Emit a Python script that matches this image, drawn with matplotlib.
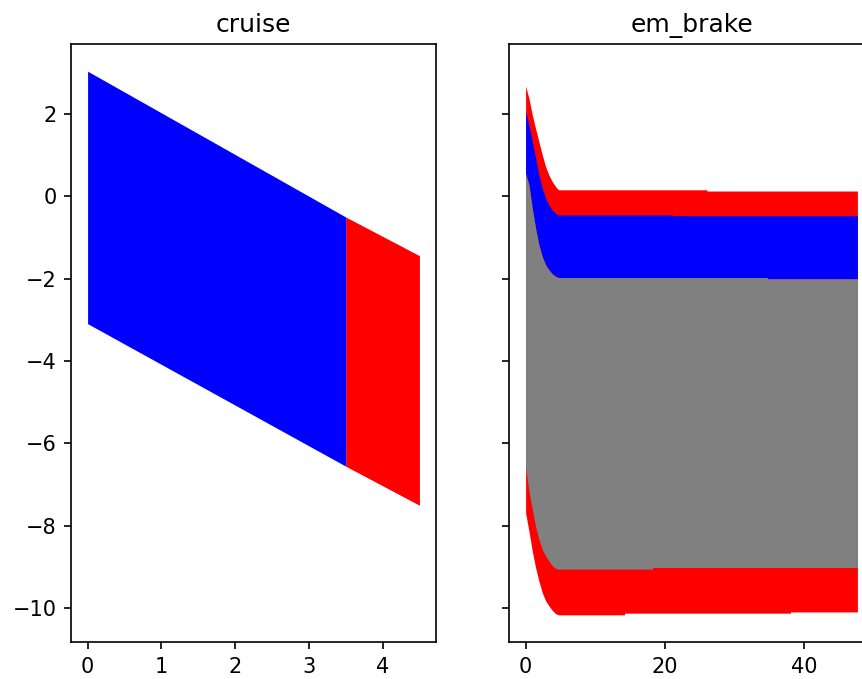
import numpy as np
import matplotlib
matplotlib.use("Agg")
import matplotlib.pyplot as plt

# cruise: band edges read at the start, at the blue/red switch and at the end
cruise_x = [0.0, 3.5, 4.5]
cruise_top = [3.04, -0.50, -1.44]
cruise_bot = [-3.09, -6.55, -7.50]
cruise_split = 3.5

# em_brake: edges of the three nested regions (x listed twice where an edge jumps)
brake_x = [0.0, 0.48, 0.96, 1.43, 1.91, 2.39, 2.87, 3.34, 3.82, 4.3, 4.7,
           14.2, 14.2, 18.2, 18.2, 21.0, 21.0, 26.0, 26.0, 34.7, 34.7, 38.0, 38.0, 47.6]
red_top = [2.68, 2.38, 1.98, 1.65, 1.33, 1.01, 0.72, 0.52, 0.36, 0.24, 0.16,
           0.16, 0.16, 0.16, 0.16, 0.16, 0.16, 0.16, 0.13, 0.13, 0.13, 0.13, 0.13, 0.13]
blue_top = [2.06, 1.73, 1.33, 0.93, 0.52, 0.20, -0.04, -0.21, -0.33, -0.41, -0.45,
            -0.45, -0.45, -0.45, -0.45, -0.45, -0.47, -0.47, -0.47, -0.47, -0.47, -0.47, -0.47, -0.47]
gray_top = [0.56, 0.28, -0.29, -0.77, -1.18, -1.46, -1.66, -1.78, -1.88, -1.94, -1.97,
            -1.97, -1.97, -1.97, -1.97, -1.97, -1.97, -1.97, -1.97, -1.97, -2.00, -2.00, -2.00, -2.00]
gray_bot = [-6.57, -7.16, -7.60, -8.01, -8.33, -8.57, -8.73, -8.85, -8.97, -9.03, -9.05,
            -9.05, -9.05, -9.05, -9.01, -9.01, -9.01, -9.01, -9.01, -9.01, -9.01, -9.01, -9.01, -9.01]
red_bot = [-7.68, -8.13, -8.61, -9.01, -9.34, -9.62, -9.82, -9.94, -10.05, -10.13, -10.16,
           -10.16, -10.12, -10.12, -10.12, -10.12, -10.12, -10.12, -10.12, -10.12, -10.12, -10.12, -10.09, -10.09]

fig = plt.figure(figsize=(862 / 150, 679 / 150), dpi=150)
ax1 = fig.add_axes([71 / 862, 37 / 679, 365 / 862, 598 / 679])
ax2 = fig.add_axes([509 / 862, 37 / 679, 365 / 862, 598 / 679], sharey=ax1)

cx = np.array(cruise_x)
ct = np.array(cruise_top)
cb = np.array(cruise_bot)
ax1.fill_between(cx, ct, cb, where=cx >= cruise_split, color='red', lw=0)
ax1.fill_between(cx, ct, cb, where=cx <= cruise_split, color='blue', lw=0)
ax1.set_title("cruise")

ax2.fill_between(brake_x, red_top, red_bot, color='red', lw=0)
ax2.fill_between(brake_x, blue_top, gray_top, color='blue', lw=0)
ax2.fill_between(brake_x, gray_top, gray_bot, color='gray', lw=0)
ax2.set_title("em_brake")
ax2.set_xticks([0, 20, 40])
ax2.tick_params(labelleft=False)

ax1.set_yticks([-10, -8, -6, -4, -2, 0, 2])

fig.savefig("out.png", dpi=150)
